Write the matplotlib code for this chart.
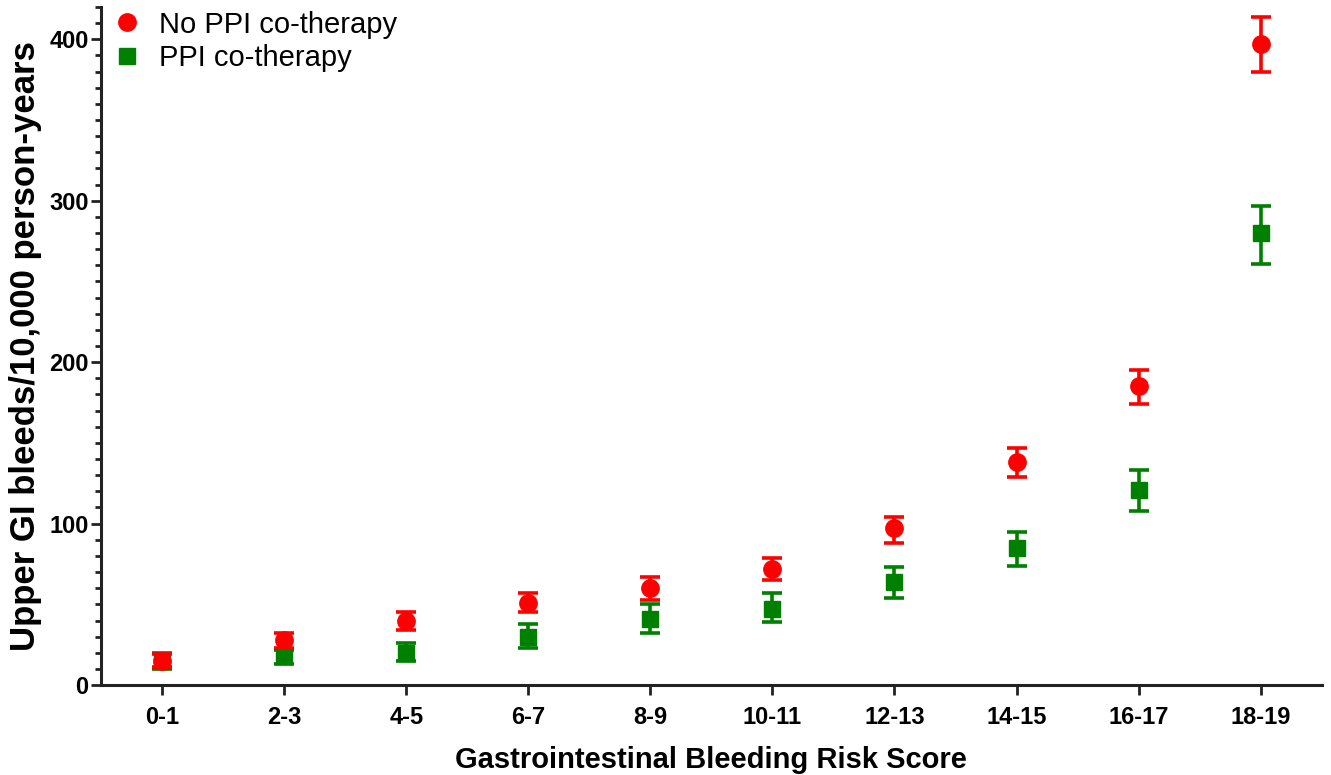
import matplotlib
matplotlib.use("Agg")
import matplotlib.pyplot as plt
from matplotlib import font_manager
from matplotlib.ticker import MultipleLocator

# ---------------------------------------------------------------------------
# Data
# ---------------------------------------------------------------------------
categories = ["0-1", "2-3", "4-5", "6-7", "8-9", "10-11",
              "12-13", "14-15", "16-17", "18-19"]

no_ppi = [15, 28, 40, 51, 60, 72, 97, 138, 185, 397]
no_ppi_lo = [11, 23, 34, 45, 53, 65, 88, 129, 174, 380]
no_ppi_hi = [19, 32, 45, 57, 67, 79, 104, 147, 195, 414]

ppi = [15, 18, 20, 30, 41, 47, 64, 85, 121, 280]
ppi_lo = [10, 13, 15, 23, 32, 39, 54, 74, 108, 261]
ppi_hi = [20, 22, 26, 38, 50, 57, 73, 95, 133, 297]

# ---------------------------------------------------------------------------
# Fonts
# ---------------------------------------------------------------------------
names = {f.name for f in font_manager.fontManager.ttflist}
base = "Liberation Sans" if "Liberation Sans" in names else "DejaVu Sans"
narrow = "Liberation Sans Narrow" if "Liberation Sans Narrow" in names else base
plt.rcParams["font.family"] = [base, "DejaVu Sans"]

# ---------------------------------------------------------------------------
# Figure
# ---------------------------------------------------------------------------
fig = plt.figure(figsize=(13.31, 7.75), dpi=100)
ax = fig.add_axes([0.076, 0.116, 0.917, 0.875])

x = list(range(len(categories)))


def err(vals, lo, hi):
    return [[v - l for v, l in zip(vals, lo)], [h - v for v, h in zip(vals, hi)]]


ax.errorbar(x, no_ppi, yerr=err(no_ppi, no_ppi_lo, no_ppi_hi), fmt="o",
            color="#ff0000", ms=12.5, elinewidth=2.6, capsize=7, capthick=2.6,
            label="No PPI co-therapy", zorder=3)
ax.errorbar(x, ppi, yerr=err(ppi, ppi_lo, ppi_hi), fmt="s",
            color="#008000", ms=12, elinewidth=2.6, capsize=7, capthick=2.6,
            label="PPI co-therapy", zorder=2)

ax.set_xlim(-0.5, 9.5)
ax.set_ylim(0, 420)
ax.set_xticks(x)
ax.set_xticklabels(categories, fontsize=17, fontweight="bold", family=narrow)
ax.yaxis.set_major_locator(MultipleLocator(100))
ax.yaxis.set_minor_locator(MultipleLocator(10))
for lab in ax.get_yticklabels():
    lab.set_fontsize(17)
    lab.set_fontweight("bold")

for side in ("top", "right"):
    ax.spines[side].set_visible(False)
for side in ("left", "bottom"):
    ax.spines[side].set_linewidth(2.2)
    ax.spines[side].set_color("#222222")
ax.tick_params(axis="both", which="major", length=7, width=2, color="#222222", pad=2)
ax.tick_params(axis="y", which="minor", length=4, width=2, color="#222222")
ax.tick_params(axis="x", pad=8)

ax.set_xlabel("Gastrointestinal Bleeding Risk Score", fontsize=21,
              fontweight="bold", family=narrow, labelpad=12)
ax.set_ylabel("Upper GI bleeds/10,000 person-years", fontsize=25,
              fontweight="bold", labelpad=5)

handles, labels = ax.get_legend_handles_labels()
handles = [h[0] for h in handles]
ax.legend(handles, labels, loc="upper left", frameon=False, fontsize=21,
          handletextpad=0.6, handlelength=1.0, labelspacing=0.18,
          borderaxespad=0.0, bbox_to_anchor=(0.0, 1.012))

fig.savefig("out.png", dpi=100)
